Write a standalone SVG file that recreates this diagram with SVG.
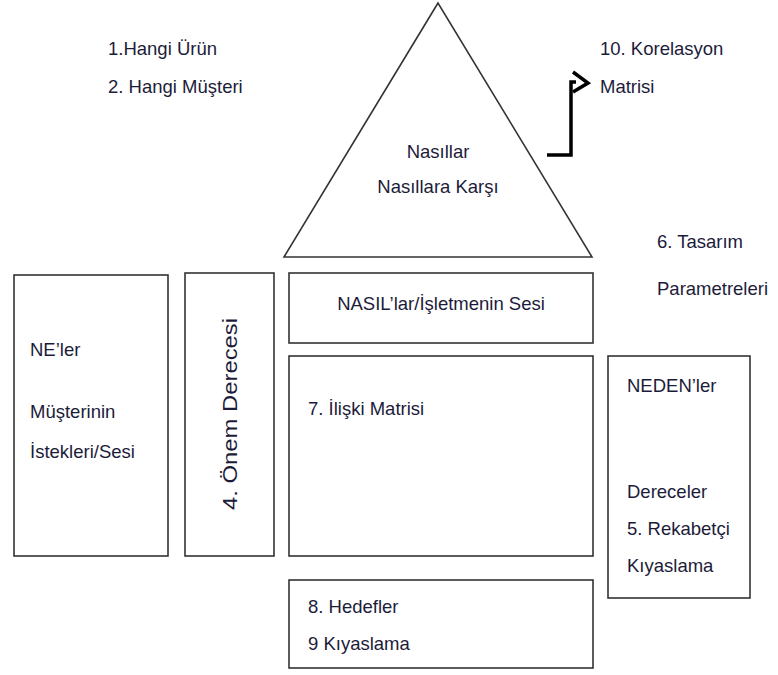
<svg xmlns="http://www.w3.org/2000/svg" width="778" height="675" viewBox="0 0 778 675">
<style>
.box{fill:#fff;stroke:#333;stroke-width:1.6}
.t{font-family:"Liberation Sans",Arial,sans-serif;font-size:18.5px;fill:#1c1c3a}
.c{text-anchor:middle}
.conn{fill:none;stroke:#000;stroke-width:3.5}
</style>
<rect width="778" height="675" fill="#fff"/>
<g id="labels-top">
<text class="t" x="108" y="55">1.Hangi Ürün</text>
<text class="t" x="108" y="93">2. Hangi Müşteri</text>
</g>
<g id="triangle">
<polygon class="box" points="438,3 284,257 592,257"/>
<text class="t c" x="438" y="158">Nasıllar</text>
<text class="t c" x="438" y="193">Nasıllara Karşı</text>
</g>
<g id="korelasyon">
<text class="t" x="600" y="55">10. Korelasyon</text>
<text class="t" x="600" y="93">Matrisi</text>
</g>
<g id="tasarim">
<text class="t" x="657" y="248">6. Tasarım</text>
<text class="t" x="657" y="295">Parametreleri</text>
</g>
<g id="neler">
<rect class="box" x="14" y="275" width="154" height="281"/>
<text class="t" x="30" y="356">NE’ler</text>
<text class="t" x="30" y="418">Müşterinin</text>
<text class="t" x="30" y="458">İstekleri/Sesi</text>
</g>
<g id="onem">
<rect class="box" x="185" y="273" width="89" height="283"/>
<text class="t c" transform="translate(237,414) rotate(-90)" style="font-size:20px" textLength="192" lengthAdjust="spacingAndGlyphs">4. Önem Derecesi</text>
</g>
<g id="nasillar">
<rect class="box" x="289" y="273" width="304" height="70"/>
<text class="t c" x="441" y="310">NASIL’lar/İşletmenin Sesi</text>
</g>
<g id="iliski">
<rect class="box" x="289" y="356" width="304" height="200"/>
<text class="t" x="308" y="415">7. İlişki Matrisi</text>
</g>
<g id="nedenler">
<rect class="box" x="608" y="356" width="142" height="242"/>
<text class="t" x="627" y="392">NEDEN’ler</text>
<text class="t" x="627" y="498">Dereceler</text>
<text class="t" x="627" y="535">5. Rekabetçi</text>
<text class="t" x="627" y="572">Kıyaslama</text>
</g>
<g id="hedefler">
<rect class="box" x="289" y="580" width="304" height="88"/>
<text class="t" x="308" y="613">8. Hedefler</text>
<text class="t" x="308" y="650">9 Kıyaslama</text>
</g>
<g id="connectors">
<polyline class="conn" points="547,155 571,155 571,82 576,82"/>
<polyline class="conn" points="573,72 588,83 573,92"/>
</g>
</svg>
